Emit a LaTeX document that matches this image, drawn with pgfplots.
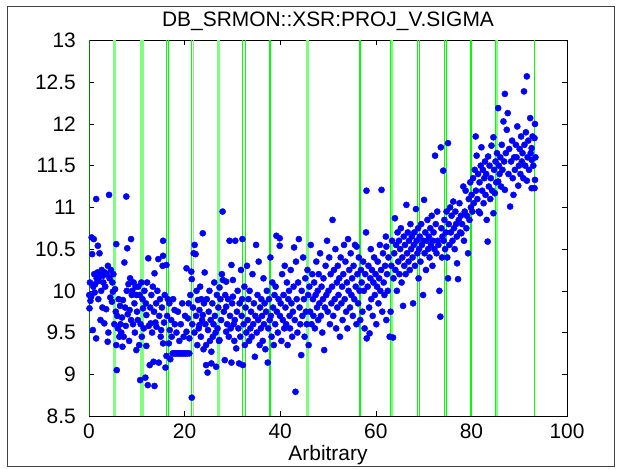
\documentclass[border=0pt]{standalone}
\usepackage{fontspec}
\setmainfont{Liberation Sans}
\usepackage{pgfplots}
\pgfplotsset{compat=1.18}
\definecolor{dgreen}{RGB}{0,128,0}
\definecolor{bgreen}{RGB}{0,255,0}
\definecolor{lgreen}{RGB}{128,255,128}
\definecolor{mblue}{RGB}{0,0,255}
\begin{document}
\begin{tikzpicture}
\begin{axis}[name=ax, scale only axis, width=478bp, height=375.5bp, at={(0,0)}, anchor=south west,
  xmin=0, xmax=100, ymin=8.5, ymax=13,
  xtick={0,20,40,60,80,100}, ytick={8.5,9,9.5,10,10.5,11,11.5,12,12.5,13},
  tick align=inside, major tick length=5bp,
  tick style={black, line width=0.5bp},
  axis line style={black, line width=0.7bp},
  font=\fontsize{21}{24}\selectfont,
  /pgf/number format/assume math mode=true,
  title={DB\_SRMON::XSR:PROJ\_V.SIGMA},
  title style={at={(0.5,1)}, anchor=base, inner sep=0pt, yshift=8bp},
  xlabel={Arbitrary},
  xlabel style={at={(0.5,0)}, anchor=base, inner sep=0pt, yshift=-44bp},
  xticklabel style={anchor=base, inner sep=0pt, yshift=-22bp},
  yticklabel style={anchor=east, inner sep=0pt, xshift=-13bp},
  clip=true]
\addplot[only marks, mark=*, mark size=3.1pt, mark options={draw=mblue, fill=mblue}, color=mblue] table {
0.05 9.95
0.1 9.79
0.2 10.1
0.3 9.88
0.45 9.93
0.55 10.64
0.67 10.44
0.8 9.53
0.9 10.05
1.0 10.62
1.1 10.2
1.2 9.98
1.3 10.08
1.5 9.43
1.5 11.1
1.6 10.15
1.75 10.22
1.85 10.54
1.95 9.9
2.05 10.12
2.2 10.45
2.3 10.18
2.4 9.65
2.55 10.0
2.65 10.25
2.8 9.8
2.9 10.18
3.0 10.1
3.2 9.61
3.3 10.22
3.4 10.05
3.6 9.78
3.7 10.2
3.9 9.39
3.95 10.3
4.05 9.5
4.2 11.15
4.3 10.15
4.45 9.92
4.6 10.25
4.8 9.87
4.9 10.1
5.0 9.99
5.1 10.2
5.3 9.6
5.45 10.02
5.6 9.75
5.7 10.56
5.7 9.35
5.8 9.05
5.9 9.7
6.05 9.55
6.2 9.9
6.35 9.45
6.5 9.82
6.6 9.6
6.75 9.5
6.9 9.68
7.0 9.33
7.1 9.89
7.25 9.45
7.4 10.34
7.55 9.8
7.7 9.58
7.8 11.13
7.9 10.0
8.0 10.51
8.1 9.72
8.25 10.08
8.4 9.4
8.5 9.77
8.6 10.15
8.8 10.62
8.8 9.65
8.95 9.95
9.05 10.0
9.2 9.6
9.35 10.1
9.5 9.85
9.6 9.5
9.75 10.05
9.9 9.29
9.95 9.95
10.05 9.75
10.2 9.65
10.3 10.05
10.5 9.35
10.6 9.95
10.7 8.93
10.8 9.6
10.95 10.1
11.05 9.45
11.2 9.9
11.3 9.79
11.45 9.55
11.6 10.0
11.8 8.96
11.9 9.85
12.0 9.71
12.0 9.34
12.15 10.1
12.3 8.87
12.4 10.39
12.5 9.58
12.7 9.11
12.8 9.8
12.9 9.61
13.05 9.95
13.2 9.5
13.35 10.05
13.5 9.15
13.6 9.75
13.7 10.21
13.7 8.86
13.9 9.62
14.05 9.85
14.1 9.57
14.3 10.0
14.5 10.38
14.6 9.14
14.7 9.7
14.85 9.9
15.0 9.45
15.1 9.53
15.25 9.8
15.4 10.3
15.5 10.6
15.5 10.42
15.5 9.37
15.7 9.62
15.85 9.95
16.0 9.08
16.2 10.31
16.2 9.22
16.35 9.7
16.5 9.9
16.7 9.37
16.8 9.85
16.9 9.53
17.0 9.18
17.2 9.65
17.3 9.45
17.5 9.25
17.6 9.9
17.8 9.25
17.9 9.77
17.95 9.6
18.1 9.25
18.3 9.5
18.4 9.25
18.6 9.75
18.7 9.25
18.9 9.4
19.0 9.25
19.2 9.6
19.3 9.25
19.5 9.85
19.6 9.25
19.8 9.45
19.9 9.25
20.1 9.7
20.2 9.25
20.4 10.27
20.4 9.51
20.55 9.25
20.7 9.67
20.85 9.85
21.0 9.43
21.0 9.25
21.2 9.95
21.4 10.23
21.5 10.14
21.5 8.72
21.6 9.6
21.75 9.8
21.9 10.45
22.05 9.5
22.1 10.55
22.3 10.44
22.4 9.7
22.5 10.0
22.65 9.35
22.8 9.89
22.95 9.55
23.1 9.77
23.1 9.59
23.25 10.05
23.4 9.45
23.5 9.9
23.65 9.65
23.8 10.69
23.8 9.71
23.95 9.3
24.05 9.85
24.2 10.22
24.35 9.6
24.5 9.35
24.5 9.11
24.65 9.9
24.8 9.02
24.9 9.53
25.05 9.75
25.2 10.0
25.3 9.4
25.45 9.65
25.6 9.27
25.6 9.13
25.8 9.85
25.9 9.45
26.05 9.6
26.2 10.1
26.35 9.7
26.5 9.5
26.6 9.09
26.75 9.95
26.9 9.55
27.05 9.8
27.2 9.4
27.3 10.04
27.3 9.41
27.5 9.9
27.65 9.65
27.8 10.2
27.95 10.95
28.0 10.13
28.2 9.75
28.4 9.17
28.5 9.95
28.7 10.11
28.7 9.81
28.7 9.51
28.9 9.6
29.1 9.9
29.25 9.45
29.4 10.6
29.5 9.7
29.65 9.55
29.8 10.31
29.8 9.14
29.95 9.85
30.1 10.13
30.1 9.93
30.25 9.6
30.4 9.4
30.5 9.65
30.6 10.6
30.8 9.31
30.95 9.75
31.1 10.0
31.25 9.55
31.4 9.13
31.5 9.85
31.65 9.45
31.8 10.25
31.95 9.7
32.05 9.9
32.1 10.62
32.2 9.11
32.35 9.6
32.5 10.05
32.6 9.35
32.75 9.8
32.9 9.5
33.05 10.3
33.2 9.65
33.35 9.9
33.5 9.4
33.6 10.0
33.75 9.55
33.9 9.75
34.05 9.45
34.2 10.2
34.35 9.6
34.5 9.85
34.7 9.21
34.8 9.7
34.95 10.55
35.1 9.5
35.25 9.95
35.4 9.65
35.5 10.35
35.7 9.35
35.8 9.8
35.95 9.55
36.05 9.9
36.2 9.7
36.35 9.4
36.5 10.15
36.6 9.6
36.75 9.85
36.9 9.3
37.05 9.75
37.2 10.0
37.4 9.14
37.5 9.55
37.65 9.9
37.8 9.65
37.95 10.4
38.05 9.7
38.2 9.45
38.35 10.1
38.5 9.8
38.65 9.35
38.8 9.95
38.95 9.6
39.05 10.05
39.2 10.66
39.3 9.75
39.5 9.5
39.65 9.9
39.9 10.63
39.9 10.54
39.95 9.7
40.1 9.85
40.25 9.4
40.4 10.2
40.55 9.65
40.7 9.95
40.85 9.55
40.95 10.3
41.1 9.8
41.25 9.6
41.4 10.1
41.55 9.35
41.7 9.9
41.85 10.0
41.95 9.7
42.05 9.55
42.2 10.25
42.35 9.85
42.5 9.45
42.65 9.75
42.8 10.05
42.9 10.52
43.05 9.65
43.2 8.79
43.3 10.35
43.45 9.9
43.6 9.5
43.75 10.1
43.9 10.62
44.05 9.8
44.2 9.6
44.4 9.23
44.5 10.0
44.65 9.7
44.8 10.4
44.95 9.9
45.1 9.45
45.25 10.15
45.4 9.75
45.55 9.6
45.7 10.25
45.85 9.95
45.95 9.35
46.1 10.05
46.25 9.75
46.4 10.55
46.55 9.6
46.7 10.2
46.85 9.9
46.95 9.7
47.1 10.1
47.25 9.55
47.4 9.95
47.55 10.35
47.7 9.8
47.85 10.0
47.95 9.65
48.05 10.2
48.2 9.85
48.35 10.45
48.5 9.7
48.65 10.05
48.8 9.5
48.95 9.9
49.05 10.15
49.2 9.29
49.35 9.8
49.5 10.3
49.65 9.95
49.8 10.6
49.95 9.75
50.1 10.0
50.25 10.4
50.4 9.6
50.55 10.2
50.7 9.85
50.85 10.05
50.95 10.85
51.1 9.7
51.25 10.25
51.4 9.9
51.55 10.5
51.7 9.55
51.85 10.1
51.95 9.8
52.05 10.3
52.2 9.95
52.35 10.15
52.5 9.45
52.65 10.4
52.8 9.85
52.95 10.05
53.05 9.65
53.2 10.2
53.35 10.55
53.5 9.9
53.65 10.35
53.8 9.75
53.95 10.1
54.05 9.55
54.2 10.62
54.3 10.0
54.45 10.25
54.6 9.8
54.75 10.45
54.9 9.95
55.05 10.15
55.2 9.7
55.35 10.3
55.5 9.9
55.65 10.55
55.8 10.05
55.95 9.6
56.0 10.53
56.15 10.2
56.3 9.85
56.45 10.4
56.6 10.0
56.75 9.65
56.9 10.25
57.05 10.1
57.2 9.75
57.35 10.35
57.5 10.0
57.65 9.55
57.8 10.2
57.95 10.7
58.05 11.2
58.1 9.43
58.3 10.05
58.45 10.3
58.6 9.8
58.7 9.49
58.85 10.15
58.95 10.5
59.05 9.9
59.2 10.25
59.35 9.7
59.5 10.1
59.65 10.4
59.8 9.95
59.95 10.2
60.1 9.6
60.25 10.05
60.4 10.35
60.55 9.85
60.7 10.15
60.85 10.55
60.95 10.0
61.1 10.25
61.2 11.21
61.35 9.75
61.5 10.45
61.65 10.1
61.8 9.95
61.95 10.3
62.1 10.65
62.2 10.53
62.2 9.65
62.35 10.2
62.5 10.0
62.65 10.4
62.9 9.45
63.1 9.75
63.25 10.3
63.4 10.6
63.6 9.44
63.7 10.15
63.85 10.45
64.0 10.87
64.1 10.25
64.25 10.55
64.4 10.0
64.55 10.7
64.7 10.35
64.85 10.6
64.95 10.2
65.1 10.5
65.25 10.75
65.4 10.1
65.55 10.4
65.7 9.82
65.85 10.65
65.95 10.3
66.1 10.55
66.25 10.2
66.4 11.03
66.55 10.45
66.7 10.7
66.85 10.35
66.95 10.6
67.1 10.25
67.25 10.8
67.4 10.5
67.55 10.65
67.7 10.4
67.8 9.85
67.95 10.55
68.05 10.7
68.2 10.3
68.4 10.98
68.55 10.6
68.7 10.45
68.85 10.75
68.95 10.15
69.05 10.5
69.2 10.65
69.35 10.35
69.5 10.8
69.65 10.55
69.9 9.95
69.95 10.6
70.1 11.09
70.2 10.45
70.35 10.7
70.5 10.25
70.65 10.6
70.8 10.85
70.95 10.5
71.1 10.65
71.25 10.4
71.4 10.75
71.55 10.55
71.7 10.9
71.85 10.3
71.95 10.6
72.1 10.7
72.25 10.5
72.4 11.62
72.55 10.8
72.7 10.45
72.85 10.95
72.95 10.6
73.1 10.55
73.3 10.0
73.5 9.69
73.6 11.72
73.7 10.75
73.85 10.4
73.95 10.65
74.1 11.44
74.2 10.6
74.35 10.85
74.5 10.5
74.65 10.7
74.8 10.95
74.95 10.4
75.1 11.77
75.1 10.15
75.25 10.8
75.4 10.55
75.55 11.0
75.7 10.7
75.85 10.9
76.05 10.6
76.2 11.07
76.35 10.75
76.5 10.5
76.65 10.95
76.8 10.8
76.95 10.65
77.0 10.33
77.2 10.14
77.35 10.85
77.5 11.05
77.65 10.7
77.8 10.9
77.9 10.69
78.05 10.8
78.3 11.25
78.45 10.6
78.6 10.95
78.8 11.2
78.95 10.75
79.05 10.9
79.3 10.45
79.45 11.1
79.6 10.85
79.75 11.3
79.9 11.0
80.05 11.15
80.2 10.95
80.35 11.35
80.5 11.05
80.7 11.45
80.9 11.85
80.95 11.2
81.1 11.62
81.25 11.1
81.4 11.4
81.55 10.95
81.7 11.3
81.8 10.93
81.95 11.5
82.1 11.72
82.25 11.2
82.4 11.45
82.55 11.05
82.7 11.35
82.85 11.55
82.95 11.15
83.1 11.4
83.2 10.85
83.4 10.59
83.5 11.61
83.65 11.25
83.8 11.5
83.95 11.1
84.05 11.35
84.2 11.74
84.35 11.2
84.6 11.84
84.6 10.93
84.75 11.45
84.9 11.17
85.05 11.55
85.2 11.3
85.35 11.65
85.6 12.19
85.6 11.31
85.75 11.5
85.9 11.4
86.05 11.6
86.2 11.25
86.35 11.75
86.5 11.45
86.7 12.03
86.85 11.55
87.0 12.36
87.0 11.21
87.2 11.65
87.4 11.93
87.6 12.13
87.75 11.4
87.9 11.7
88.1 11.01
88.3 11.55
88.5 11.8
88.65 11.35
88.8 11.15
88.95 11.6
89.1 11.45
89.3 11.75
89.45 11.6
89.6 11.97
89.8 11.26
89.95 11.5
90.1 11.7
90.25 11.4
90.4 11.85
90.55 11.55
90.7 11.65
90.85 11.35
91.0 12.39
91.1 11.75
91.25 11.5
91.4 11.9
91.6 12.57
91.6 11.32
91.75 11.6
91.9 11.8
92.05 11.45
92.3 12.07
92.4 11.65
92.6 11.71
92.6 11.57
92.6 11.23
92.8 11.85
92.95 11.5
93.2 11.83
93.2 11.23
93.3 12.0
93.3 11.33
93.4 11.6
};
% vertical marker lines (pairs)
\addplot[forget plot, lgreen, line width=1.6bp] coordinates {(5.1,8.5) (5.1,13)};
\addplot[forget plot, lgreen, line width=1.6bp] coordinates {(5.45,8.5) (5.45,13)};
\addplot[forget plot, lgreen, line width=1.6bp] coordinates {(10.9,8.5) (10.9,13)};
\addplot[forget plot, lgreen, line width=1.6bp] coordinates {(11.3,8.5) (11.3,13)};
\addplot[forget plot, bgreen, line width=1bp] coordinates {(16.2,8.5) (16.2,13)};
\addplot[forget plot, bgreen, line width=1bp] coordinates {(16.6,8.5) (16.6,13)};
\addplot[forget plot, bgreen, line width=1bp] coordinates {(21.5,8.5) (21.5,13)};
\addplot[forget plot, lgreen, line width=1.6bp] coordinates {(21.85,8.5) (21.85,13)};
\addplot[forget plot, lgreen, line width=1.6bp] coordinates {(26.9,8.5) (26.9,13)};
\addplot[forget plot, lgreen, line width=1.6bp] coordinates {(27.25,8.5) (27.25,13)};
\addplot[forget plot, bgreen, line width=1bp] coordinates {(32.1,8.5) (32.1,13)};
\addplot[forget plot, bgreen, line width=1bp] coordinates {(32.65,8.5) (32.65,13)};
\addplot[forget plot, bgreen, line width=1bp] coordinates {(37.7,8.5) (37.7,13)};
\addplot[forget plot, bgreen, line width=1bp] coordinates {(38.05,8.5) (38.05,13)};
\addplot[forget plot, lgreen, line width=1.6bp] coordinates {(45.6,8.5) (45.6,13)};
\addplot[forget plot, lgreen, line width=1.6bp] coordinates {(45.95,8.5) (45.95,13)};
\addplot[forget plot, bgreen, line width=1bp] coordinates {(56.5,8.5) (56.5,13)};
\addplot[forget plot, bgreen, line width=1bp] coordinates {(56.9,8.5) (56.9,13)};
\addplot[forget plot, bgreen, line width=1bp] coordinates {(63.1,8.5) (63.1,13)};
\addplot[forget plot, lgreen, line width=1.6bp] coordinates {(63.45,8.5) (63.45,13)};
\addplot[forget plot, bgreen, line width=1bp] coordinates {(68.65,8.5) (68.65,13)};
\addplot[forget plot, bgreen, line width=1bp] coordinates {(69.05,8.5) (69.05,13)};
\addplot[forget plot, bgreen, line width=1bp] coordinates {(74.3,8.5) (74.3,13)};
\addplot[forget plot, bgreen, line width=1bp] coordinates {(74.7,8.5) (74.7,13)};
\addplot[forget plot, bgreen, line width=1bp] coordinates {(79.75,8.5) (79.75,13)};
\addplot[forget plot, bgreen, line width=1bp] coordinates {(80.1,8.5) (80.1,13)};
\addplot[forget plot, bgreen, line width=1bp] coordinates {(84.95,8.5) (84.95,13)};
\addplot[forget plot, lgreen, line width=1.6bp] coordinates {(85.4,8.5) (85.4,13)};
\addplot[forget plot, bgreen, line width=1bp] coordinates {(93.3,8.5) (93.3,13)};
\addplot[forget plot, dgreen, line width=1.6bp] coordinates {(0.1,8.5) (0.1,13)};
\end{axis}
\pgfresetboundingbox
\path[use as bounding box] (-89bp,-53bp) rectangle (532bp,416bp);
\draw[black!75, line width=0.8bp] (-82bp,-50bp) rectangle (525bp,410bp);
\end{tikzpicture}
\end{document}
